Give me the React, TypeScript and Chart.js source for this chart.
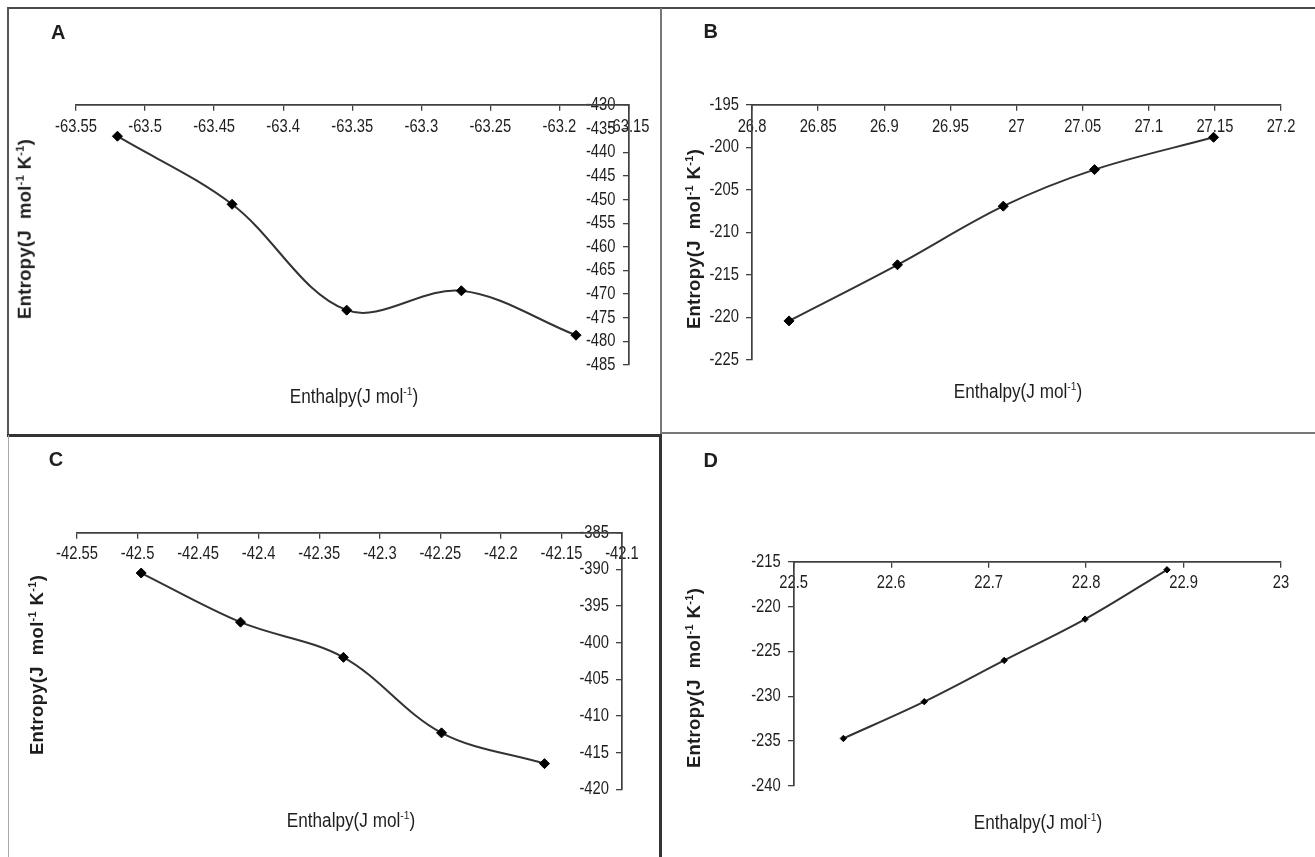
import React, { useEffect, useRef } from "react";
import { Chart, registerables } from "chart.js";

Chart.register(...registerables);

// ---------- data ----------
const A_ENTHALPY = [-63.52, -63.437, -63.354, -63.271, -63.188];
const A_ENTROPY = [-436.6, -451.0, -473.4, -469.3, -478.7];
const A_X_TICKS = [-63.55, -63.5, -63.45, -63.4, -63.35, -63.3, -63.25, -63.2, -63.15];
const A_Y_TICKS = [-430, -435, -440, -445, -450, -455, -460, -465, -470, -475, -480, -485];

const B_ENTHALPY = [26.828, 26.91, 26.99, 27.059, 27.149];
const B_ENTROPY = [-220.4, -213.8, -206.9, -202.6, -198.8];
const B_X_TICKS = [26.8, 26.85, 26.9, 26.95, 27, 27.05, 27.1, 27.15, 27.2];
const B_Y_TICKS = [-195, -200, -205, -210, -215, -220, -225];

const C_ENTHALPY = [-42.497, -42.415, -42.33, -42.249, -42.164];
const C_ENTROPY = [-390.5, -397.2, -402.0, -412.3, -416.5];
const C_X_TICKS = [-42.55, -42.5, -42.45, -42.4, -42.35, -42.3, -42.25, -42.2, -42.15, -42.1];
const C_Y_TICKS = [-385, -390, -395, -400, -405, -410, -415, -420];

const D_ENTHALPY = [22.551, 22.634, 22.716, 22.799, 22.883];
const D_ENTROPY = [-234.7, -230.6, -226.0, -221.4, -215.9];
const D_X_TICKS = [22.5, 22.6, 22.7, 22.8, 22.9, 23];
const D_Y_TICKS = [-215, -220, -225, -230, -235, -240];

// ---------- layout / style ----------
const SANS = "'Liberation Sans', Arial, Helvetica, sans-serif";
const AXIS_COLOR = "#404040";
const TEXT_COLOR = "#1e1e1e";
const NARROW_SCALE = 0.82; // emulate a condensed (Arial Narrow-like) face
const Y_LABEL_GAP = 13;

type Panel = {
  letter: string;
  xs: number[];
  ys: number[];
  xTicks: number[];
  yTicks: number[];
  yAxisAtMax: boolean;
  box: { left: number; top: number; width: number; height: number };
  area: { left: number; right: number; top: number; bottom: number };
  radius: number;
  letterPos: { left: number; top: number };
  xTitle: { cx: number; top: number };
  yTitle: { cx: number; cy: number };
};

const PANELS: Panel[] = [
  {
    letter: "A", xs: A_ENTHALPY, ys: A_ENTROPY, xTicks: A_X_TICKS, yTicks: A_Y_TICKS, yAxisAtMax: true,
    box: { left: 0, top: 0, width: 660, height: 433 },
    area: { left: 76, right: 629.6, top: 105, bottom: 365 },
    radius: 5, letterPos: { left: 51, top: 22 }, xTitle: { cx: 353.5, top: 386.8 }, yTitle: { cx: 25.1, cy: 229 },
  },
  {
    letter: "B", xs: B_ENTHALPY, ys: B_ENTROPY, xTicks: B_X_TICKS, yTicks: B_Y_TICKS, yAxisAtMax: false,
    box: { left: 660, top: 0, width: 655, height: 433 },
    area: { left: 752, right: 1281, top: 105, bottom: 360 },
    radius: 5, letterPos: { left: 703.6, top: 21 }, xTitle: { cx: 1018, top: 381.8 }, yTitle: { cx: 693.6, cy: 239 },
  },
  {
    letter: "C", xs: C_ENTHALPY, ys: C_ENTROPY, xTicks: C_X_TICKS, yTicks: C_Y_TICKS, yAxisAtMax: true,
    box: { left: 0, top: 433, width: 660, height: 424 },
    area: { left: 77, right: 622, top: 532.7, bottom: 789.3 },
    radius: 5, letterPos: { left: 48.8, top: 448.8 }, xTitle: { cx: 351, top: 810.5 }, yTitle: { cx: 36.6, cy: 665 },
  },
  {
    letter: "D", xs: D_ENTHALPY, ys: D_ENTROPY, xTicks: D_X_TICKS, yTicks: D_Y_TICKS, yAxisAtMax: false,
    box: { left: 660, top: 433, width: 655, height: 424 },
    area: { left: 793.7, right: 1281, top: 561.7, bottom: 786 },
    radius: 3.2, letterPos: { left: 703.6, top: 449.7 }, xTitle: { cx: 1037.5, top: 812.5 }, yTitle: { cx: 693.6, cy: 678 },
  },
];

const fmt = (v: number) => String(Number(Number(v).toFixed(3)));

// draw canvas text horizontally condensed around its anchor point
function condenseText(ctx: CanvasRenderingContext2D, k: number) {
  const orig = CanvasRenderingContext2D.prototype.fillText;
  (ctx as any).fillText = function (text: string, x: number, y: number, maxWidth?: number) {
    this.save();
    this.translate(x, y);
    this.scale(k, 1);
    if (maxWidth !== undefined) orig.call(this, text, 0, 0, maxWidth / k);
    else orig.call(this, text, 0, 0);
    this.restore();
  };
}

// move the y tick labels away from the axis line (they sit on its left side)
const yLabelGapPlugin = {
  id: "yLabelGap",
  beforeDraw(chart: any) {
    const s = chart.scales.y;
    if (!s) return;
    const items = s.getLabelItems(chart.chartArea);
    if (!items || items.__shifted) return;
    items.forEach((it: any) => {
      it.options.translation[0] -= Y_LABEL_GAP;
    });
    items.__shifted = true;
  },
};

function makeChart(canvas: HTMLCanvasElement, p: Panel) {
  const ctx = canvas.getContext("2d");
  if (ctx) condenseText(ctx, NARROW_SCALE);
  const xMin = Math.min(...p.xTicks);
  const xMax = Math.max(...p.xTicks);
  const yMin = Math.min(...p.yTicks);
  const yMax = Math.max(...p.yTicks);
  return new Chart(canvas, {
    type: "scatter",
    data: {
      datasets: [
        {
          data: p.xs.map((x, i) => ({ x, y: p.ys[i] })),
          showLine: true,
          tension: 0.35,
          borderColor: "#333",
          borderWidth: 2,
          pointStyle: "rectRot",
          pointRadius: p.radius,
          pointBackgroundColor: "#000",
          pointBorderColor: "#000",
          pointBorderWidth: 1,
          fill: false,
        } as any,
      ],
    },
    plugins: [yLabelGapPlugin as any],
    options: {
      animation: false,
      responsive: false,
      events: [],
      layout: {
        padding: {
          left: p.area.left - p.box.left,
          right: p.box.left + p.box.width - p.area.right,
          top: p.area.top - p.box.top,
          bottom: p.box.top + p.box.height - p.area.bottom,
        },
      },
      plugins: { legend: { display: false }, tooltip: { enabled: false } },
      scales: {
        x: {
          type: "linear",
          min: xMin,
          max: xMax,
          position: { y: yMax } as any,
          afterBuildTicks: (axis: any) => {
            axis.ticks = p.xTicks.map((v) => ({ value: v }));
          },
          grid: { drawOnChartArea: false, drawTicks: true, tickLength: 5, color: AXIS_COLOR, lineWidth: 1.3 },
          border: { display: true, color: AXIS_COLOR, width: 1.7, z: 1 } as any,
          ticks: {
            autoSkip: false,
            maxRotation: 0,
            minRotation: 0,
            padding: 6,
            color: TEXT_COLOR,
            font: { family: SANS, size: 18 },
            callback: (v: any) => fmt(v),
          },
        },
        y: {
          type: "linear",
          min: yMin,
          max: yMax,
          position: { x: p.yAxisAtMax ? xMax : xMin } as any,
          afterBuildTicks: (axis: any) => {
            axis.ticks = p.yTicks.map((v) => ({ value: v }));
          },
          grid: { drawOnChartArea: false, drawTicks: true, tickLength: 5, color: AXIS_COLOR, lineWidth: 1.3 },
          border: { display: true, color: AXIS_COLOR, width: 1.7, z: 1 } as any,
          ticks: {
            autoSkip: false,
            padding: 8,
            color: TEXT_COLOR,
            font: { family: SANS, size: 18 },
            callback: (v: any) => fmt(v),
          },
        },
      },
    } as any,
  });
}

const Sup = ({ children }: { children: React.ReactNode }) => (
  <span style={{ fontSize: "0.6em", verticalAlign: "0.65em", lineHeight: 0 }}>{children}</span>
);

function PanelView({ p }: { p: Panel }) {
  const ref = useRef<HTMLCanvasElement | null>(null);
  useEffect(() => {
    if (!ref.current) return;
    const chart = makeChart(ref.current, p);
    return () => chart.destroy();
  }, [p]);
  return (
    <>
      <canvas
        ref={ref}
        width={p.box.width}
        height={p.box.height}
        style={{ position: "absolute", left: p.box.left, top: p.box.top, width: p.box.width, height: p.box.height, display: "block" }}
      />
      <div
        style={{
          position: "absolute", left: p.letterPos.left, top: p.letterPos.top,
          font: `bold 20px ${SANS}`, lineHeight: "20px", color: TEXT_COLOR,
        }}
      >
        {p.letter}
      </div>
      <div
        style={{
          position: "absolute", left: p.xTitle.cx, top: p.xTitle.top, transform: "translateX(-50%) scaleX(0.88)",
          fontFamily: SANS, fontSize: 19.5, lineHeight: "19.5px", color: TEXT_COLOR, whiteSpace: "nowrap",
        }}
      >
        Enthalpy(J mol<Sup>-1</Sup>)
      </div>
      <div
        style={{
          position: "absolute", left: p.yTitle.cx, top: p.yTitle.cy,
          transform: "translate(-50%, -50%) rotate(-90deg)",
          fontFamily: SANS, fontWeight: "bold", fontSize: 18.5, lineHeight: "18.5px", letterSpacing: "0.3px",
          color: TEXT_COLOR, whiteSpace: "pre",
        }}
      >
        Entropy(J  mol<Sup>-1</Sup> K<Sup>-1</Sup>)
      </div>
    </>
  );
}

const Line = ({ l, t, w, h, c }: { l: number; t: number; w: number; h: number; c: string }) => (
  <div style={{ position: "absolute", left: l, top: t, width: w, height: h, background: c }} />
);

export default function App() {
  return (
    <div style={{ position: "absolute", left: 0, top: 0, width: 1315, height: 857, background: "#fff", overflow: "hidden" }}>
      {PANELS.map((p) => (
        <PanelView key={p.letter} p={p} />
      ))}
      {/* frame lines */}
      <Line l={7} t={7} w={1308} h={2} c="#4a4a4a" />
      <Line l={7} t={7} w={2} h={428} c="#555" />
      <Line l={660} t={8} w={1.6} h={425} c="#777" />
      <Line l={7} t={434} w={654} h={2.5} c="#333" />
      <Line l={660} t={432} w={655} h={2} c="#777" />
      <Line l={7.5} t={435} w={1.3} h={422} c="#aaa" />
      <Line l={659} t={434} w={3} h={423} c="#333" />
    </div>
  );
}
